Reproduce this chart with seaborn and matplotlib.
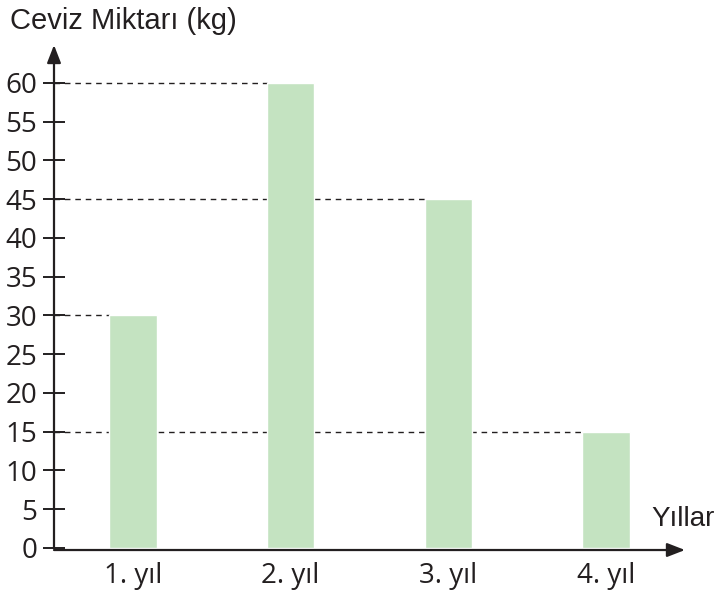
import matplotlib
matplotlib.use("Agg")
import matplotlib.pyplot as plt
import seaborn as sns
import pandas as pd

# Walnut harvest per year
years = ["1. yıl", "2. yıl", "3. yıl", "4. yıl"]
amounts = [30, 60, 45, 15]
y_ticks = list(range(0, 61, 5))

y_label = "Ceviz Miktarı (kg)"
x_label = "Yıllar"

bar_color = "#c4e3c1"
ink = "#231f20"

sns.set_theme(style="white")
plt.rcParams["font.family"] = ["Open Sans", "DejaVu Sans"]
label_font = ["Liberation Sans", "DejaVu Sans"]

df = pd.DataFrame({"yil": years, "miktar": amounts})

fig = plt.figure(figsize=(7.22, 5.99), dpi=100)
ax = fig.add_axes([54 / 722, 1 - 548 / 599, (685 - 54) / 722, (548 - 45) / 599])

bar_w = 0.3
sns.barplot(data=df, x="yil", y="miktar", color=bar_color, width=bar_w,
            saturation=1, ax=ax, zorder=3)

ax.set_xlim(-0.5, 3.5)
ax.set_ylim(0, 64.9)

# dashed guide lines from the vertical axis to the left edge of each bar
for i, v in enumerate(amounts):
    ax.hlines(v, -0.5, i - bar_w / 2, colors=ink, linestyles=(0, (4, 3.5)),
              linewidth=1.0, zorder=2)

for s in ax.spines.values():
    s.set_visible(False)

# axes drawn as arrows
ax.annotate("", xy=(0, 1.0), xytext=(0, 0), xycoords="axes fraction",
            arrowprops=dict(arrowstyle="-|>,head_length=0.9,head_width=0.35",
                            color=ink, lw=1.6, shrinkA=0, shrinkB=0),
            annotation_clip=False)
ax.annotate("", xy=(1.0, -0.004), xytext=(0, -0.004), xycoords="axes fraction",
            arrowprops=dict(arrowstyle="-|>,head_length=0.9,head_width=0.35",
                            color=ink, lw=1.6, shrinkA=0, shrinkB=0),
            annotation_clip=False)

ax.set_yticks(y_ticks)
ax.set_yticklabels([str(t) for t in y_ticks])
ax.tick_params(axis="y", direction="inout", length=16, width=1.4, color=ink,
               labelsize=20, labelcolor=ink, pad=4, left=True)
ax.tick_params(axis="x", length=0, labelsize=20, labelcolor=ink, pad=10)
ax.set_xlabel("")
ax.set_ylabel("")
ax.grid(False)

fig.text(10 / 722, 1 - 21 / 599, y_label, fontsize=21, color=ink,
         family=label_font, ha="left", va="center")
fig.text(651 / 722, 1 - 519 / 599, x_label, fontsize=20, color=ink,
         family=label_font, ha="left", va="center")

fig.savefig("out.png", dpi=100)
